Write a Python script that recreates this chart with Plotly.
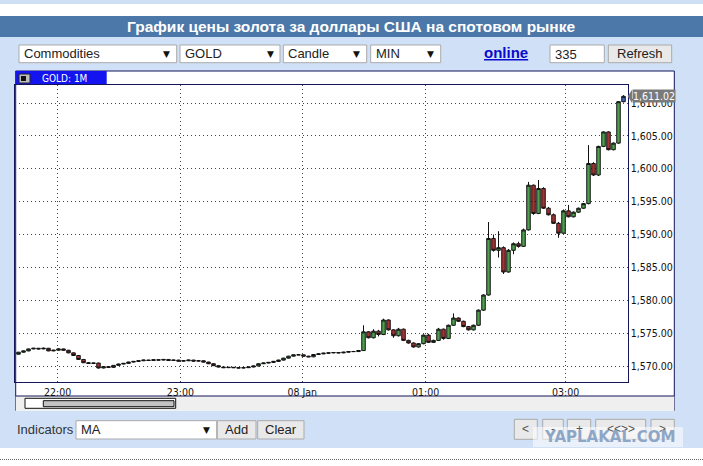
import plotly.graph_objects as go

# candle data (1 candle ~ 5px in the original widget)
opens = [1571.8, 1572.1, 1572.3, 1572.6, 1572.7, 1572.6, 1572.7, 1572.3, 1572.4, 1572.6,
         1572.4, 1572.0, 1571.6, 1571.0, 1570.5, 1570.4, 1570.45, 1569.7, 1569.9, 1569.8,
         1570.1, 1570.3, 1570.4, 1570.6, 1570.7, 1570.8, 1570.9, 1570.85, 1570.95, 1570.9,
         1571.0, 1570.85, 1570.9, 1570.75, 1570.8, 1570.9, 1570.75, 1570.8, 1570.6, 1570.35,
         1570.05, 1569.85, 1569.75, 1569.8, 1569.75, 1569.7, 1569.75, 1569.85, 1570.0, 1570.35,
         1570.45, 1570.55, 1570.7, 1570.9, 1571.2, 1571.5, 1571.7, 1571.7, 1571.5, 1571.4,
         1571.75, 1571.85, 1571.95, 1572.0, 1572.05, 1572.0, 1572.1, 1572.2, 1572.2, 1572.35,
         1575.2, 1574.3, 1575.3, 1574.8, 1577.0, 1575.5, 1574.6, 1575.6, 1573.9, 1573.5,
         1572.9, 1573.4, 1574.7, 1573.6, 1573.9, 1575.6, 1574.2, 1576.2, 1577.3, 1576.8,
         1576.0, 1575.5, 1576.2, 1578.5, 1580.8, 1589.4, 1587.6, 1588.0, 1584.3, 1587.6,
         1588.6, 1588.2, 1590.7, 1597.5, 1593.2, 1597.0, 1594.0, 1593.0, 1591.7, 1590.2,
         1593.6, 1592.7, 1593.4, 1594.0, 1594.7, 1600.8, 1599.05, 1603.4, 1605.6, 1602.9,
         1603.9, 1610.2]
highs = [1572.15, 1572.35, 1572.65, 1572.75, 1572.75, 1572.8, 1572.75, 1572.45, 1572.7, 1572.65,
         1572.45, 1572.05, 1571.65, 1571.05, 1570.6, 1570.5, 1570.5, 1569.95, 1569.95, 1570.15,
         1570.35, 1570.45, 1570.65, 1570.75, 1570.85, 1570.95, 1570.95, 1571.0, 1571.0, 1571.05,
         1571.05, 1570.95, 1570.95, 1570.85, 1570.95, 1570.95, 1570.85, 1570.85, 1570.65, 1570.4,
         1570.1, 1569.9, 1569.85, 1569.85, 1569.8, 1569.8, 1569.9, 1570.05, 1570.4, 1570.5,
         1570.6, 1570.75, 1570.95, 1571.25, 1571.55, 1571.75, 1571.8, 1571.75, 1571.55, 1571.8,
         1571.9, 1572.0, 1572.05, 1572.1, 1572.1, 1572.15, 1572.25, 1572.3, 1572.4, 1576.2,
         1575.3, 1575.6, 1575.5, 1577.2, 1577.1, 1575.6, 1575.8, 1575.7, 1574.0, 1573.6,
         1573.5, 1574.8, 1574.9, 1574.0, 1575.8, 1575.7, 1576.3, 1578.0, 1577.4, 1576.9,
         1576.1, 1576.3, 1578.6, 1580.9, 1591.9, 1590.0, 1590.5, 1588.2, 1587.8, 1588.8,
         1588.9, 1590.9, 1598.0, 1597.6, 1598.3, 1597.2, 1594.2, 1593.2, 1591.9, 1593.8,
         1594.5, 1593.5, 1594.1, 1594.8, 1603.6, 1601.0, 1603.5, 1605.7, 1605.7, 1604.0,
         1610.3, 1611.2]
lows = [1571.75, 1572.05, 1572.25, 1572.55, 1572.55, 1572.55, 1572.25, 1572.25, 1572.35, 1572.35,
        1571.95, 1571.55, 1570.95, 1570.45, 1570.35, 1570.3, 1569.6, 1569.65, 1569.75, 1569.75,
        1570.05, 1570.25, 1570.35, 1570.55, 1570.65, 1570.75, 1570.8, 1570.8, 1570.85, 1570.85,
        1570.8, 1570.8, 1570.7, 1570.7, 1570.75, 1570.7, 1570.7, 1570.55, 1570.3, 1570.0,
        1569.8, 1569.7, 1569.7, 1569.7, 1569.65, 1569.65, 1569.7, 1569.8, 1569.95, 1570.3,
        1570.4, 1570.5, 1570.65, 1570.85, 1571.15, 1571.45, 1571.65, 1571.45, 1571.35, 1571.35,
        1571.7, 1571.8, 1571.9, 1571.95, 1571.95, 1571.95, 1572.05, 1572.15, 1572.15, 1572.3,
        1574.2, 1574.2, 1574.5, 1574.7, 1575.4, 1574.3, 1574.5, 1573.8, 1573.4, 1572.8,
        1572.8, 1573.3, 1573.5, 1573.5, 1573.8, 1574.0, 1574.1, 1576.1, 1576.7, 1575.9,
        1575.4, 1575.4, 1576.1, 1578.4, 1580.7, 1587.4, 1586.5, 1584.0, 1584.2, 1587.0,
        1588.0, 1588.1, 1590.6, 1593.0, 1593.1, 1593.9, 1592.9, 1591.6, 1589.5, 1590.1,
        1592.6, 1592.6, 1593.3, 1593.9, 1594.6, 1598.9, 1598.9, 1603.3, 1602.8, 1602.8,
        1603.8, 1610.1]
closes = [1572.1, 1572.3, 1572.6, 1572.7, 1572.6, 1572.7, 1572.3, 1572.4, 1572.6, 1572.4,
          1572.0, 1571.6, 1571.0, 1570.5, 1570.4, 1570.45, 1569.7, 1569.9, 1569.8, 1570.1,
          1570.3, 1570.4, 1570.6, 1570.7, 1570.8, 1570.9, 1570.85, 1570.95, 1570.9, 1571.0,
          1570.85, 1570.9, 1570.75, 1570.8, 1570.9, 1570.75, 1570.8, 1570.6, 1570.35, 1570.05,
          1569.85, 1569.75, 1569.8, 1569.75, 1569.7, 1569.75, 1569.85, 1570.0, 1570.35, 1570.45,
          1570.55, 1570.7, 1570.9, 1571.2, 1571.5, 1571.7, 1571.7, 1571.5, 1571.4, 1571.75,
          1571.85, 1571.95, 1572.0, 1572.05, 1572.0, 1572.1, 1572.2, 1572.2, 1572.35, 1575.2,
          1574.3, 1575.3, 1574.8, 1577.0, 1575.5, 1574.6, 1575.6, 1573.9, 1573.5, 1572.9,
          1573.4, 1574.7, 1573.6, 1573.9, 1575.6, 1574.2, 1576.2, 1577.3, 1576.8, 1576.0,
          1575.5, 1576.2, 1578.5, 1580.8, 1589.4, 1587.6, 1588.0, 1584.3, 1587.6, 1588.6,
          1588.2, 1590.7, 1597.5, 1593.2, 1597.0, 1594.0, 1593.0, 1591.7, 1590.2, 1593.6,
          1592.7, 1593.4, 1594.0, 1594.7, 1600.8, 1599.05, 1603.4, 1605.6, 1602.9, 1603.9,
          1610.2, 1611.02]

tick_pos = [7.84, 32.36, 56.76, 81.44, 109.44]
tick_labels = ["22:00", "23:00", "08 Jan", "01:00", "03:00"]
last_price = 1611.02

W, H = 703, 466
AXIS_FONT = "Liberation Sans Narrow, DejaVu Sans Condensed, Arial Narrow, sans-serif"
UI_FONT = "Liberation Sans, Arial, sans-serif"
NAVY = "#14145a"

def px(x):
    return x / W

def py(y):
    return 1 - y / H

shapes = []
annotations = []

def box(x0, y0, x1, y1, fill, line=None, lw=1, dash=None, opacity=1):
    shapes.append(dict(type="rect", xref="paper", yref="paper", layer="below",
                       x0=px(x0), x1=px(x1), y0=py(y1), y1=py(y0),
                       fillcolor=fill, opacity=opacity,
                       line=dict(color=line or fill, width=lw if line else 0, dash=dash)))

def hline(x0, x1, y, color, dash=None, lw=1):
    shapes.append(dict(type="line", xref="paper", yref="paper", layer="below",
                       x0=px(x0), x1=px(x1), y0=py(y), y1=py(y),
                       line=dict(color=color, width=lw, dash=dash)))

def vline(x, y0, y1, color, lw=1):
    shapes.append(dict(type="line", xref="paper", yref="paper", layer="below",
                       x0=px(x), x1=px(x), y0=py(y0), y1=py(y1),
                       line=dict(color=color, width=lw)))

def text(x, y, s, size=13, color="#222", anchor="left", family=UI_FONT):
    annotations.append(dict(xref="paper", yref="paper", x=px(x), y=py(y), text=s,
                            showarrow=False, xanchor=anchor, yanchor="middle",
                            font=dict(family=family, size=size, color=color)))

def dropdown(x0, x1, y0, y1, label):
    box(x0, y0, x1, y1, "white", "#a9a9a9")
    text(x0 + 3, (y0 + y1) / 2, label)
    text(x1 - 10, (y0 + y1) / 2, "▼", size=9, color="#111", anchor="center",
         family="DejaVu Sans")

def button(x0, x1, y0, y1, label, size=13, color="#222"):
    box(x0, y0, x1, y1, "#e9e9e9", "#a9a9a9")
    text((x0 + x1) / 2, (y0 + y1) / 2, label, size=size, color=color, anchor="center")

# page background pieces
box(0, 0, W, 4, "#cfe0f6")
box(0, 16, W, 37, "#4b78a8")
box(0, 37, W, 448, "#d0e1f7")
hline(0, W, 459.5, "#666", dash="1px,1px")
text(351, 26.5, "<b>График цены золота за доллары США на спотовом рынке</b>",
     size=15.5, color="white", anchor="center")

# top controls
dropdown(19, 176.7, 45, 62.7, "Commodities")
dropdown(180, 280, 45, 62.7, "GOLD")
dropdown(283.3, 366.7, 45, 62.7, "Candle")
dropdown(370.7, 440.7, 45, 62.7, "MIN")
text(505.5, 52.5, "<b><u>online</u></b>", size=15, color="#0a0acc", anchor="center")
box(550, 45, 604.3, 62.7, "white", "#a9a9a9")
text(553, 54, "335")
button(608.3, 671.7, 45, 62.7, "Refresh")

# chart frame
box(15.7, 71, 674.3, 410.7, "white")
vline(15.7, 71, 410.7, NAVY)
vline(674.3, 71, 410.7, NAVY)
hline(15.7, 674.3, 71, NAVY)
box(15.7, 71, 106.7, 85, "#1414f0")
box(19, 74, 30, 83, "#bdbdbd", "#222")
box(21, 76, 26, 81, "#111")
text(40, 78.5, "GOLD: 1M", size=10, color="white", family=AXIS_FONT)

# scroll area
box(15.7, 396, 674.3, 410.7, "#efefef")
hline(15.7, 674.3, 396, NAVY)
box(25, 398.3, 175.7, 408.3, "white", "#111")
box(43.3, 400.7, 174, 406.7, "#c3c3c3", "#111")

# bottom controls
text(15, 429.5, "Indicators", color="#333")
dropdown(76, 216.7, 420.7, 439, "MA")
button(217.3, 256, 420.7, 439, "Add")
button(257.7, 304, 420.7, 439, "Clear")
button(514.3, 537.3, 419.3, 439.3, "&lt;", size=12, color="#555")
button(542.7, 563.3, 419.3, 439.3, "-", size=12, color="#555")
button(567.3, 590.7, 419.3, 439.3, "+", size=12, color="#555")
button(595.7, 645.7, 419.3, 439.3, "&lt;&lt;&gt;&gt;", size=12, color="#555")
button(651, 674.3, 419.3, 439.3, "&gt;", size=12, color="#555")
shapes.append(dict(type="rect", xref="paper", yref="paper", layer="above",
                   x0=px(533), x1=px(683), y0=py(447), y1=py(427),
                   fillcolor="white", opacity=0.55, line=dict(width=0)))
text(609, 437, "<b>YAPLAKAL.COM</b>", size=15, color="#8ea6c6", anchor="center",
     family="DejaVu Sans")

# candles
n = len(closes)
xs = list(range(n))
fig = go.Figure()
fig.add_trace(go.Candlestick(
    x=xs[:-1], open=opens[:-1], high=highs[:-1], low=lows[:-1], close=closes[:-1],
    increasing=dict(fillcolor="#4ea04e", line=dict(color="#111", width=1)),
    decreasing=dict(fillcolor="#a83232", line=dict(color="#111", width=1)),
    whiskerwidth=0, showlegend=False, hoverinfo="skip"))
fig.add_trace(go.Candlestick(
    x=xs[-1:], open=opens[-1:], high=highs[-1:], low=lows[-1:], close=closes[-1:],
    increasing=dict(fillcolor="#3a66c4", line=dict(color="#111", width=1)),
    decreasing=dict(fillcolor="#3a66c4", line=dict(color="#111", width=1)),
    whiskerwidth=0, showlegend=False, hoverinfo="skip"))

# last price tag
shapes.append(dict(type="path", xref="paper", yref="y", layer="above",
                   path=f"M {px(627.7)},{last_price} L {px(632)},{last_price + 1.0} "
                        f"L {px(632)},{last_price - 1.0} Z",
                   fillcolor="#7a7a7a", line=dict(width=0)))
annotations.append(dict(xref="paper", yref="y", x=px(631.5), y=last_price,
                        text=f"{last_price:,.2f}", showarrow=False, xanchor="left",
                        yanchor="middle", bgcolor="#7a7a7a", borderpad=0,
                        font=dict(family=AXIS_FONT, size=10.5, color="white")))

fig.update_xaxes(range=[-0.7, 121.84], domain=[px(15), px(627.7)],
                 tickmode="array", tickvals=tick_pos, ticktext=tick_labels,
                 showgrid=True, gridcolor="#444", griddash="1px,3px", gridwidth=1,
                 showline=True, linecolor=NAVY, linewidth=1, mirror=True,
                 ticks="", zeroline=False, rangeslider_visible=False,
                 tickfont=dict(family=AXIS_FONT, size=10.5, color="#111"))
fig.update_yaxes(range=[1567.57, 1612.74], domain=[py(382), py(85)], side="right",
                 tick0=1570, dtick=5, tickformat=",.2f",
                 showgrid=True, gridcolor="#444", griddash="1px,3px", gridwidth=1,
                 showline=True, linecolor=NAVY, linewidth=1, mirror=True,
                 ticks="", zeroline=False,
                 tickfont=dict(family=AXIS_FONT, size=10.5, color="#111"))

fig.update_layout(
    width=W, height=H,
    margin=dict(l=0, r=0, t=0, b=0),
    paper_bgcolor="white",
    plot_bgcolor="white",
    showlegend=False,
    boxgap=0,
    shapes=shapes,
    annotations=annotations,
)

fig.write_html("out.html", config={"displayModeBar": False},
               post_script="document.body.style.margin='0px';"
                           "document.body.style.overflow='hidden';")
